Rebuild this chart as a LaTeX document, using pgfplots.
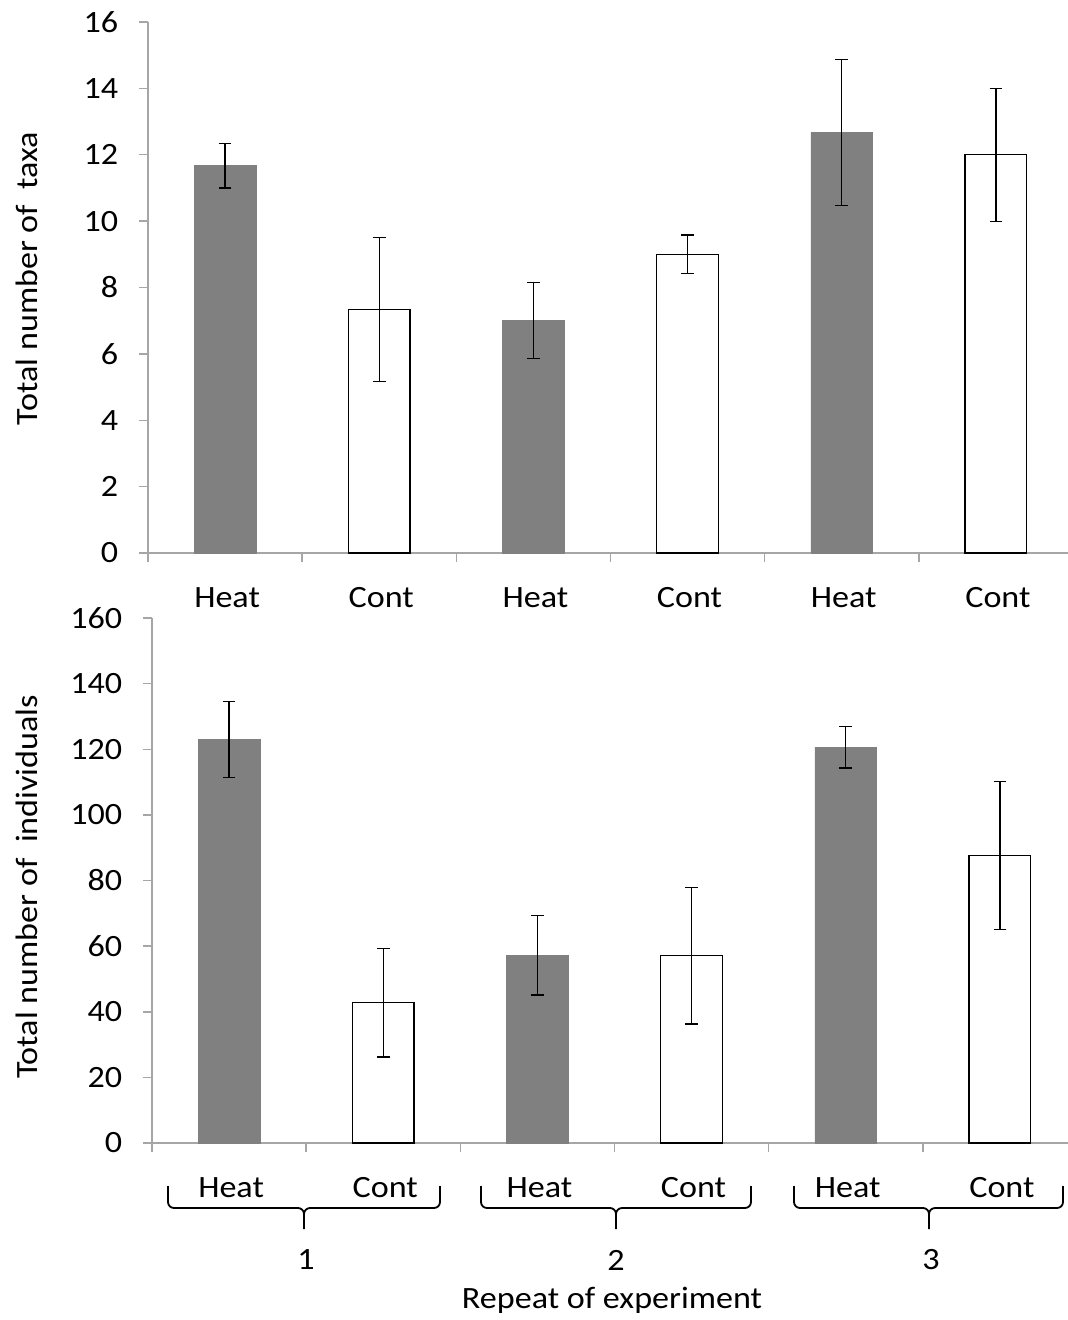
\documentclass[border=0pt]{standalone}
\usepackage{fontspec}
\setmainfont{Carlito}[FakeStretch=1.1]
\usepackage{pgfplots}
\pgfplotsset{compat=1.18}
\definecolor{axisgray}{HTML}{A6A6A6}
\definecolor{bargray}{HTML}{808080}
\pgfplotsset{
  mystyle/.style={
    scale only axis,
    anchor=south west,
    axis lines*=left,
    axis line style={axisgray, line width=0.75pt},
    xmin=-0.5, xmax=5.5, ymin=0,
    xtick={-0.5,0.5,...,5.5},
    xticklabels={},
    extra x ticks={0,1,2,3,4,5},
    extra x tick labels={Heat,Cont,Heat,Cont,Heat,Cont},
    extra x tick style={major tick length=0pt, tick label style={yshift=-12pt, xshift=1pt}},
    tick align=outside,
    major tick length=4.5pt,
    tick style={axisgray, line width=0.75pt},
    /pgf/number format/assume math mode=true,
    tick label style={font=\fontsize{15.5}{18}\selectfont},
    yticklabel style={xshift=-5pt},
    label style={font=\fontsize{15.5}{18}\selectfont},
    clip=false,
  },
  heat/.style={ybar, bar width=0.4, fill=bargray, draw=bargray, line width=0.4pt,
    error bars/.cd, y dir=both, y explicit,
    error bar style={black, line width=0.6pt},
    error mark options={rotate=90, mark size=3.2pt, black, line width=0.6pt}},
  cont/.style={ybar, bar width=0.4, fill=white, draw=black, line width=0.6pt,
    error bars/.cd, y dir=both, y explicit,
    error bar style={black, line width=0.6pt},
    error mark options={rotate=90, mark size=3.2pt, black, line width=0.6pt}},
}
\begin{document}
\fontsize{15.5}{18}\selectfont
\begin{tikzpicture}
\useasboundingbox (0,0) rectangle (534pt,-660pt);
\begin{axis}[mystyle, at={(74pt,-276.5pt)}, width=462.5pt, height=265.5pt,
  ymax=16, ytick={0,2,...,16},
  ylabel={Total number of\ \ taxa},
  ylabel style={at={(axis description cs:-0.1308,0.517)}, anchor=center, rotate=0}]
\addplot[heat] coordinates {(0,11.67) +- (0,0.67) (2,7.0) +- (0,1.15) (4,12.67) +- (0,2.2)};
\addplot[cont] coordinates {(1,7.33) +- (0,2.17) (3,9.0) +- (0,0.58) (5,12.0) +- (0,2.0)};
\end{axis}
\begin{axis}[mystyle, at={(76pt,-571.5pt)}, width=462.5pt, height=262.5pt,
  ymax=160, ytick={0,20,...,160},
  ylabel={Total number of\ \ individuals},
  ylabel style={at={(axis description cs:-0.1351,0.488)}, anchor=center}]
\addplot[heat] coordinates {(0,123) +- (0,11.5) (2,57.2) +- (0,12.1) (4,120.6) +- (0,6.3)};
\addplot[cont] coordinates {(1,42.8) +- (0,16.6) (3,57.1) +- (0,20.8) (5,87.6) +- (0,22.5)};
\end{axis}
\begin{scope}[x=0.5pt,y=-0.5pt]
\foreach \a/\b/\t in {168/440/304, 481/751/616, 794/1063/929} {
  \draw[line width=0.9pt] (\a,1186) -- (\a,1202) to[out=-90,in=180] (\a+6,1208) -- (\t-6,1208) to[out=0,in=90] (\t,1214) -- (\t,1229);
  \draw[line width=0.9pt] (\b,1186) -- (\b,1202) to[out=-90,in=0] (\b-6,1208) -- (\t+6,1208) to[out=180,in=90] (\t,1214);
}
\node at (306,1260) {1};
\node at (616,1260) {2};
\node at (931,1260) {3};
\node at (612,1300) {Repeat of experiment};
\end{scope}
\end{tikzpicture}
\end{document}
